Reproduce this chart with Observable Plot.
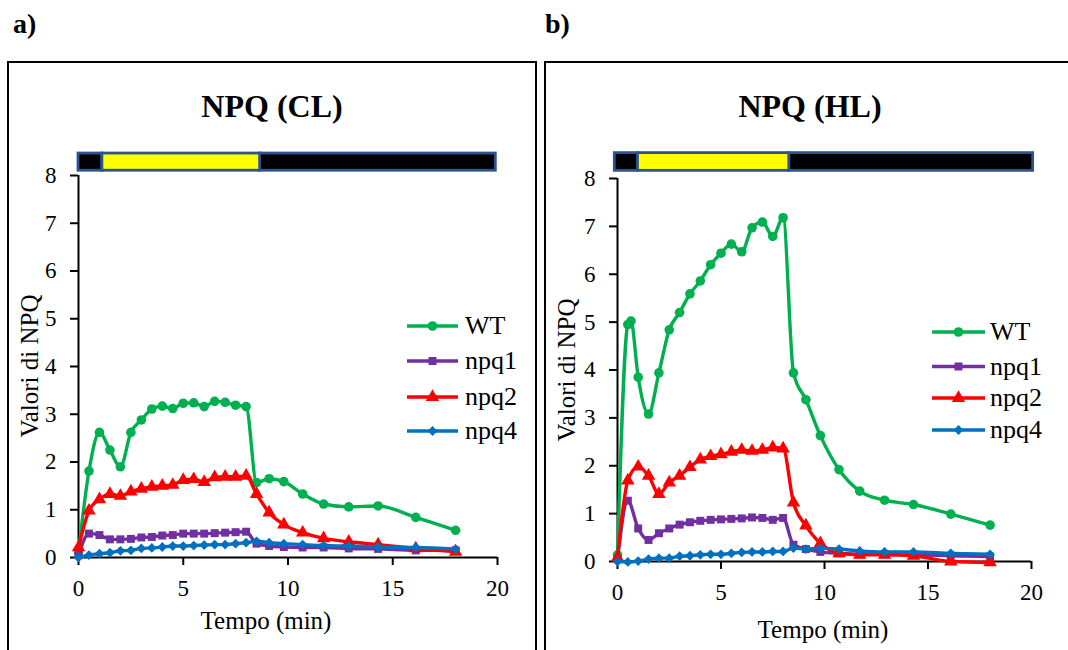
<!DOCTYPE html>
<html>
<head>
<meta charset="utf-8">
<script src="https://cdn.jsdelivr.net/npm/d3@7"></script>
<script src="https://cdn.jsdelivr.net/npm/@observablehq/plot@0.6"></script>
<style>
  body { margin: 0; background: #fff; }
  #root { position: relative; width: 1068px; height: 650px; overflow: hidden; background: #fff; }
  .panel { position: absolute; border: 2px solid #000; box-sizing: border-box; }
  .chart { position: absolute; top: 0; }
  #overlay { position: absolute; left: 0; top: 0; pointer-events: none; }
</style>
</head>
<body>
<div id="root">
  <div class="panel" style="left:7px;top:61px;width:530px;height:640px;"></div>
  <div class="panel" style="left:544px;top:61px;width:540px;height:640px;"></div>
  <div class="chart" id="c1" style="left:0px;"></div>
  <div class="chart" id="c2" style="left:540px;"></div>
</div>
<script>
// ---------------- data ----------------
const xTicks = [0, 5, 10, 15, 20];
const yTicks = [0, 1, 2, 3, 4, 5, 6, 7, 8];
const xDomain = [0, 20];
const yDomain = [0, 8];

const seriesNames = ["WT", "npq1", "npq2", "npq4"];
const seriesColors = ["#00B050", "#7030A0", "#FF0000", "#0070C0"];
const seriesSymbols = ["circle", "square", "triangle", "diamond2"];

const times = [0, 0.5, 1, 1.5, 2, 2.5, 3, 3.5, 4, 4.5, 5, 5.5, 6, 6.5, 7, 7.5, 8,
               8.5, 9.1, 9.8, 10.7, 11.7, 12.9, 14.3, 16.1, 18.0];
const timesHLWT = [0, 0.5, 0.65, 1, 1.5, 2, 2.5, 3, 3.5, 4, 4.5, 5, 5.5, 6, 6.5, 7, 7.5, 8,
                   8.5, 9.1, 9.8, 10.7, 11.7, 12.9, 14.3, 16.1, 18.0];

// NPQ (CL)
const clWT   = [0.10, 1.81, 2.62, 2.25, 1.90, 2.62, 2.88, 3.11, 3.17, 3.12, 3.23, 3.24, 3.16, 3.27, 3.25, 3.19, 3.16,
                1.57, 1.65, 1.59, 1.33, 1.12, 1.06, 1.08, 0.84, 0.57];
const clNpq1 = [0.05, 0.50, 0.47, 0.38, 0.38, 0.39, 0.42, 0.43, 0.46, 0.47, 0.50, 0.50, 0.50, 0.51, 0.52, 0.53, 0.54,
                0.29, 0.24, 0.22, 0.21, 0.21, 0.19, 0.18, 0.15, 0.15];
const clNpq2 = [0.21, 0.98, 1.22, 1.33, 1.29, 1.38, 1.44, 1.48, 1.50, 1.52, 1.62, 1.64, 1.58, 1.68, 1.69, 1.69, 1.71,
                1.33, 0.94, 0.69, 0.52, 0.40, 0.33, 0.27, 0.19, 0.12];
const clNpq4 = [0.00, 0.05, 0.08, 0.10, 0.14, 0.15, 0.19, 0.20, 0.22, 0.24, 0.24, 0.25, 0.26, 0.27, 0.27, 0.29, 0.31,
                0.34, 0.31, 0.29, 0.27, 0.25, 0.24, 0.22, 0.21, 0.18];

// NPQ (HL)
const hlWT   = [0.14, 4.95, 5.02, 3.85, 3.08, 3.94, 4.84, 5.20, 5.59, 5.86, 6.20, 6.44, 6.63, 6.47, 6.97, 7.09, 6.79, 7.18,
                3.94, 3.38, 2.63, 1.92, 1.47, 1.28, 1.19, 0.99, 0.76];
const hlNpq1 = [0.05, 1.27, 0.69, 0.45, 0.59, 0.69, 0.77, 0.82, 0.85, 0.87, 0.88, 0.89, 0.90, 0.92, 0.91, 0.87, 0.91,
                0.35, 0.26, 0.20, 0.17, 0.15, 0.15, 0.14, 0.12, 0.10];
const hlNpq2 = [0.08, 1.69, 1.98, 1.79, 1.41, 1.65, 1.79, 1.97, 2.13, 2.20, 2.24, 2.29, 2.33, 2.31, 2.33, 2.38, 2.36,
                1.23, 0.75, 0.38, 0.17, 0.14, 0.14, 0.12, 0.00, -0.02];
const hlNpq4 = [0.00, -0.01, 0.01, 0.05, 0.07, 0.07, 0.11, 0.12, 0.14, 0.15, 0.15, 0.17, 0.19, 0.20, 0.20, 0.21, 0.21,
                0.28, 0.26, 0.28, 0.26, 0.22, 0.20, 0.20, 0.17, 0.15];

// light regime bar (dark / actinic light / dark)
const barPhases = ["dark", "light", "dark"];
const clBarStart = [0.0, 1.14, 8.67];
const clBarEnd   = [1.14, 8.67, 19.92];
const clBarY     = [8.1, 8.46];
const hlBarStart = [-0.13, 0.99, 8.3];
const hlBarEnd   = [0.99, 8.3, 20.08];
const hlBarY     = [8.16, 8.53];

// ---------------- charts ----------------
const markR = [4.8, 4.5, 5.0, 4.4];
const serif = '"Liberation Serif", "Times New Roman", serif';

function makeChart(opts) {
  const bars = barPhases.map((p, i) => ({phase: p, start: opts.barStart[i], end: opts.barEnd[i], y1: opts.barY[0], y2: opts.barY[1]}));
  const marks = [
    Plot.rect(bars, {filter: d => d.phase === "dark", x1: "start", x2: "end", y1: "y1", y2: "y2", fill: "#000", stroke: "#2F528F", strokeWidth: 2.8}),
    Plot.rect(bars, {filter: d => d.phase === "light", x1: "start", x2: "end", y1: "y1", y2: "y2", fill: "#FFFF00", stroke: "#2F528F", strokeWidth: 2.8}),
    Plot.ruleY([yDomain[0]], {x1: xDomain[0], x2: xDomain[1], stroke: "#000", strokeWidth: 2}),
    Plot.ruleX([xDomain[0]], {y1: yDomain[0], y2: yDomain[1], stroke: "#000", strokeWidth: 2})
  ];
  seriesNames.forEach((name, i) => {
    const ts = opts.times[i];
    const rows = opts.series[i].map((v, j) => ({t: ts[j], v}));
    marks.push(Plot.line(rows, {x: "t", y: "v", stroke: seriesColors[i], strokeWidth: 3.4, curve: "monotone-x"}));
    marks.push(Plot.dot(rows, {x: "t", y: "v", fill: seriesColors[i], symbol: seriesSymbols[i], r: markR[i]}));
  });
  const svg = Plot.plot({
    width: opts.width,
    height: 650,
    marginLeft: opts.ml, marginRight: opts.mr, marginTop: opts.mt, marginBottom: opts.mb,
    style: {fontFamily: serif, fontSize: "23px", color: "#000", background: "transparent", overflow: "visible"},
    x: {domain: xDomain, ticks: xTicks, tickSize: 8, tickPadding: 14, label: null},
    y: {domain: yDomain, ticks: yTicks, tickSize: 8, tickPadding: 14, label: null},
    marks
  });
  const s = d3.select(svg);
  s.selectAll('g[aria-label*="axis"] path, g[aria-label*="axis"] line').attr("stroke-width", 2);
  s.selectAll("text").attr("font-family", serif);
  return svg;
}

document.getElementById("c1").appendChild(makeChart({
  width: 540, ml: 78, mr: 43, mt: 175, mb: 93,
  times: [times, times, times, times],
  series: [clWT, clNpq1, clNpq2, clNpq4],
  barStart: clBarStart, barEnd: clBarEnd, barY: clBarY
}));
document.getElementById("c2").appendChild(makeChart({
  width: 528, ml: 77, mr: 37, mt: 178, mb: 89,
  times: [timesHLWT, times, times, times],
  series: [hlWT, hlNpq1, hlNpq2, hlNpq4],
  barStart: hlBarStart, barEnd: hlBarEnd, barY: hlBarY
}));

// ---------------- overlay texts & legends ----------------
const ov = d3.select("#root").append("svg").attr("id", "overlay").attr("width", 1068).attr("height", 650)
  .attr("font-family", serif);

const tags = [{t: "a)", x: 13, y: 33}, {t: "b)", x: 545, y: 33}];
tags.forEach(d => ov.append("text").attr("x", d.x).attr("y", d.y).attr("font-size", 28).attr("font-weight", "bold").text(d.t));

const titles = [{t: "NPQ (CL)", x: 272, y: 117}, {t: "NPQ (HL)", x: 810, y: 117}];
titles.forEach(d => ov.append("text").attr("x", d.x).attr("y", d.y).attr("text-anchor", "middle")
  .attr("font-size", 32).attr("font-weight", "bold").text(d.t));

const xLabels = [{x: 266, y: 629}, {x: 823, y: 638}];
xLabels.forEach(d => ov.append("text").attr("x", d.x).attr("y", d.y).attr("text-anchor", "middle")
  .attr("font-size", 25).text("Tempo (min)"));

const yLabels = [{x: 38, y: 366}, {x: 575, y: 370}];
yLabels.forEach(d => ov.append("text").attr("transform", `translate(${d.x},${d.y}) rotate(-90)`)
  .attr("text-anchor", "middle").attr("font-size", 25).text("Valori di NPQ"));

const legends = [
  {x1: 407, x2: 458, tx: 465, ys: [326, 361, 397, 431]},
  {x1: 932, x2: 985, tx: 990, ys: [332, 366.5, 398, 430]}
];
const symMap = {circle: d3.symbolCircle, square: d3.symbolSquare, triangle: d3.symbolTriangle, diamond2: d3.symbolDiamond2};
legends.forEach(L => {
  seriesNames.forEach((name, i) => {
    const y = L.ys[i];
    const g = ov.append("g");
    g.append("line").attr("x1", L.x1).attr("x2", L.x2).attr("y1", y).attr("y2", y)
      .attr("stroke", seriesColors[i]).attr("stroke-width", 3.5);
    g.append("path").attr("transform", `translate(${(L.x1 + L.x2) / 2},${y})`)
      .attr("d", d3.symbol(symMap[seriesSymbols[i]], Math.PI * markR[i] * markR[i])())
      .attr("fill", seriesColors[i]);
    g.append("text").attr("x", L.tx).attr("y", y + 8).attr("font-size", 26).text(name);
  });
});
</script>
</body>
</html>
